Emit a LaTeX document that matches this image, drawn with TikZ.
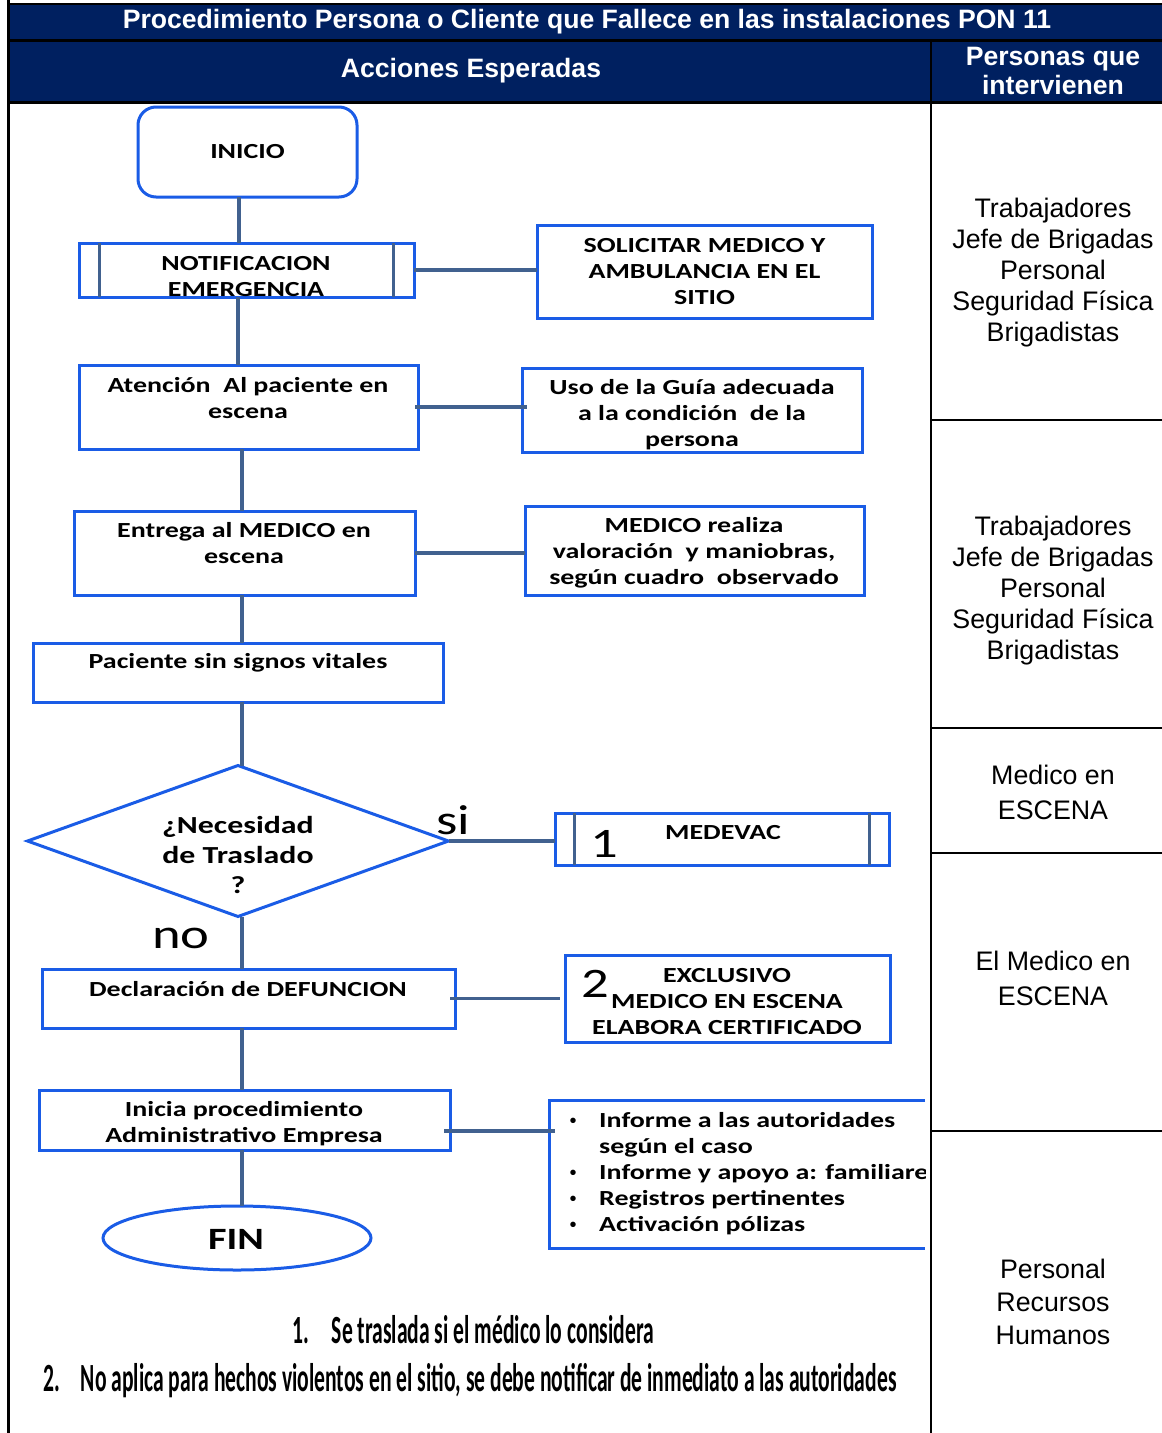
\documentclass[tikz,border=0pt]{standalone}
\usepackage{fontspec}
\setmainfont{Liberation Sans}
\newfontfamily\boxfont[FakeStretch=1.3]{Carlito}
\newfontfamily\notefont[FakeStretch=0.54]{Carlito}
\usetikzlibrary{shapes.geometric,calc}
\definecolor{navy}{HTML}{002060}
\definecolor{flowblue}{HTML}{1A5CE6}
\definecolor{linkblue}{HTML}{41618F}

\tikzset{
  box/.style={draw=flowblue, line width=3pt, rectangle, inner sep=0pt, outer sep=0pt},
  conn/.style={draw=linkblue, line width=3.5pt},
  bar/.style={draw=linkblue, line width=3pt},
  btxt/.style={font=\boxfont\bfseries\fontsize{21.5}{26}\selectfont, align=center, inner sep=0pt, text=black},
  bigtxt/.style={font=\boxfont\fontsize{42}{44}\selectfont, inner sep=0pt, text=black},
  role/.style={font=\fontsize{26.8}{31}\selectfont, align=center, inner sep=0pt},
  rule/.style={draw=black, line width=2.5pt},
  head/.style={font=\bfseries\fontsize{26.6}{29}\selectfont, text=white, align=center, inner sep=0pt},
  note/.style={font=\notefont\bfseries\fontsize{40}{44}\selectfont, anchor=west, inner sep=0pt},
}

\begin{document}
\begin{tikzpicture}[x=1pt,y=-1pt]
\useasboundingbox (0,0) rectangle (1162,1433);

% ---- table frame and headings ----
\fill[navy] (8,4) rectangle (1162,40);
\fill[navy] (8,41) rectangle (1162,102);
\draw[rule] (8,4) -- (1162,4);
\draw[rule] (8,40.5) -- (1162,40.5);
\draw[rule] (8,102.5) -- (1162,102.5);
\draw[black, line width=3pt] (8.5,0) -- (8.5,1433);
\draw[rule] (931,40.5) -- (931,1433);
\foreach \yy in {420,728,853,1131}
  \draw[rule] (931,\yy) -- (1162,\yy);

\node[head] (title) at (587,22) {Procedimiento Persona o Cliente que Fallece en las instalaciones PON 11};
\node[head] (acc) at (471,71) {Acciones Esperadas};
\node[head] (per) at (1053,71) {Personas que\\intervienen};

% ---- people involved ----
\node[role] (r1) at (1053,273) {Trabajadores\\Jefe de Brigadas\\Personal\\Seguridad Física\\Brigadistas};
\node[role] (r2) at (1053,591) {Trabajadores\\Jefe de Brigadas\\Personal\\Seguridad Física\\Brigadistas};
\node[role, font=\fontsize{26.8}{35}\selectfont] (r3) at (1053,792) {Medico en\\ESCENA};
\node[role, font=\fontsize{26.8}{35}\selectfont] (r4) at (1053,978) {El Medico en\\ESCENA};
\node[role, font=\fontsize{26.8}{33}\selectfont] (r5) at (1053,1302) {Personal\\Recursos\\Humanos};

% ---- flowchart shapes ----
\node[box, btxt, rounded corners=18pt, minimum width=219, minimum height=90] (inicio) at (247.5,152) {INICIO};

\node[box, minimum width=335, minimum height=54] (notif) at (246.5,270) {};
\draw[bar] ([xshift=20pt]notif.north west) -- ([xshift=20pt]notif.south west);
\draw[bar] ([xshift=-21pt]notif.north east) -- ([xshift=-21pt]notif.south east);
\node[btxt] (notiftxt) at (246,277) {NOTIFICACION\\EMERGENCIA};

\node[box, btxt, minimum width=335, minimum height=93] (solic) at (704.5,271.5) {SOLICITAR MEDICO Y\\AMBULANCIA EN EL\\SITIO};

\node[box, minimum width=339, minimum height=84] (aten) at (248.5,407) {};
\node[btxt] (atentxt) at (248,398) {Atención\ \ Al paciente en\\escena};

\node[box, minimum width=340, minimum height=84] (uso) at (692,410) {};
\node[btxt] (usotxt) at (692,415) {Uso de la Guía adecuada\\a la condición\ \ de la\\persona};

\node[box, minimum width=341, minimum height=84] (entrega) at (244.5,553) {};
\node[btxt] (entregatxt) at (244,543) {Entrega al MEDICO en\\escena};

\node[box, minimum width=339, minimum height=89] (medico) at (694.5,550.5) {};
\node[btxt] (medicotxt) at (694,552.5) {MEDICO realiza\\valoración\ \ y maniobras,\\según cuadro\ \ observado};

\node[box, minimum width=410, minimum height=59] (paciente) at (238,672.5) {};
\node[btxt] (pacientetxt) at (238,663) {Paciente sin signos vitales};

\node[draw=flowblue, line width=3pt, diamond, inner sep=0pt, outer sep=0pt, minimum width=421, minimum height=151] (dia) at (238,841) {};
\node[btxt, font=\boxfont\bfseries\fontsize{24.5}{30}\selectfont] (diatxt) at (238,855) {¿Necesidad\\de Traslado\\?};
\node[bigtxt] (si) at (453,820) {si};
\node[bigtxt] (no) at (181,938) {no};

\node[box, minimum width=334, minimum height=52] (medevac) at (722,839) {};
\draw[bar] ([xshift=19pt]medevac.north west) -- ([xshift=19pt]medevac.south west);
\draw[bar] ([xshift=-20pt]medevac.north east) -- ([xshift=-20pt]medevac.south east);
\node[bigtxt] (uno) at (604,844) {1};
\node[btxt] (medevactxt) at (723,833) {MEDEVAC};

\node[box, minimum width=413, minimum height=59] (decl) at (248.5,998.5) {};
\node[btxt] (decltxt) at (248,989) {Declaración de DEFUNCION};

\node[box, minimum width=325, minimum height=87] (excl) at (727.5,998.5) {};
\node[bigtxt] (dos) at (595,984) {2};
\node[btxt] (excltxt) at (727,1002) {EXCLUSIVO\\MEDICO EN ESCENA\\ELABORA CERTIFICADO};

\node[box, minimum width=411, minimum height=60] (inicia) at (244.5,1120) {};
\node[btxt] (iniciatxt) at (244,1124) {Inicia procedimiento\\Administrativo Empresa};

% open-ended list box, cut by the column rule
\node[inner sep=0pt, outer sep=0pt, minimum width=376, minimum height=148, anchor=north west] (lst) at (549,1100) {};
\draw[draw=flowblue, line width=3pt] (lst.north east) -- (lst.north west) -- (lst.south west) -- (lst.south east);
\begin{scope}
  \clip (0,0) rectangle (925,1433);
  \foreach \yy/\tx/\bl [count=\i] in {1120/Informe a las autoridades/1, 1146/según el caso/0, 1172/Informe y apoyo a: familiares/1, 1198/Registros pertinentes/1, 1224/Activación pólizas/1}{
    \node[btxt, anchor=base west] (li\i) at (599,\yy+7) {\tx};
    \ifnum\bl=1 \node[font=\fontsize{20}{20}\selectfont, inner sep=0pt, anchor=base] (bu\i) at (573,\yy+7) {\textbullet};\fi
  }
\end{scope}

\node[draw=flowblue, line width=3pt, ellipse, inner sep=0pt, outer sep=0pt, minimum width=268, minimum height=64] (fin) at (237,1238) {};
\node[btxt, font=\boxfont\bfseries\fontsize{31}{34}\selectfont] (fintxt) at (236,1239) {FIN};

% ---- connectors ----
\coordinate (x239) at (239,0);
\coordinate (x238) at (238,0);
\coordinate (x242) at (242,0);
\draw[conn] (x239 |- inicio.south) -- (x239 |- notif.north);
\draw[conn] (x238 |- notif.south) -- (x238 |- aten.north);
\draw[conn] (x242 |- aten.south) -- (x242 |- entrega.north);
\draw[conn] (x242 |- entrega.south) -- (x242 |- paciente.north);
\draw[conn] (x242 |- paciente.south) -- (x242 |- dia.north);
\draw[conn] (x242 |- dia.south) -- (x242 |- decl.north);
\draw[conn] (x242 |- decl.south) -- (x242 |- inicia.north);
\draw[conn] (x242 |- inicia.south) -- (x242 |- fin.north);

\draw[conn] (notif.east) -- (notif.east -| solic.west);
\draw[conn] ([xshift=-3pt]aten.east) -- ([xshift=5pt]aten.east -| uso.west);
\draw[conn] (entrega.east) -- (entrega.east -| medico.west);
\draw[conn] (dia.east) -- (dia.east -| medevac.west);
\draw[conn] ([xshift=-5pt]decl.east) -- ([xshift=-5pt]decl.east -| excl.west);
\draw[conn] ([xshift=-6pt,yshift=-11pt]inicia.east) -- ([xshift=6pt,yshift=-11pt]inicia.east -| lst.west);

% ---- footnotes ----
\node[note] (n1) at (292,1330) {1.\hspace{23pt}Se traslada si el médico lo considera};
\node[note] (n2) at (43,1381) {2.\hspace{21pt}No aplica para hechos violentos en el sitio, se debe notificar de inmediato a las autoridades};

\end{tikzpicture}
\end{document}
